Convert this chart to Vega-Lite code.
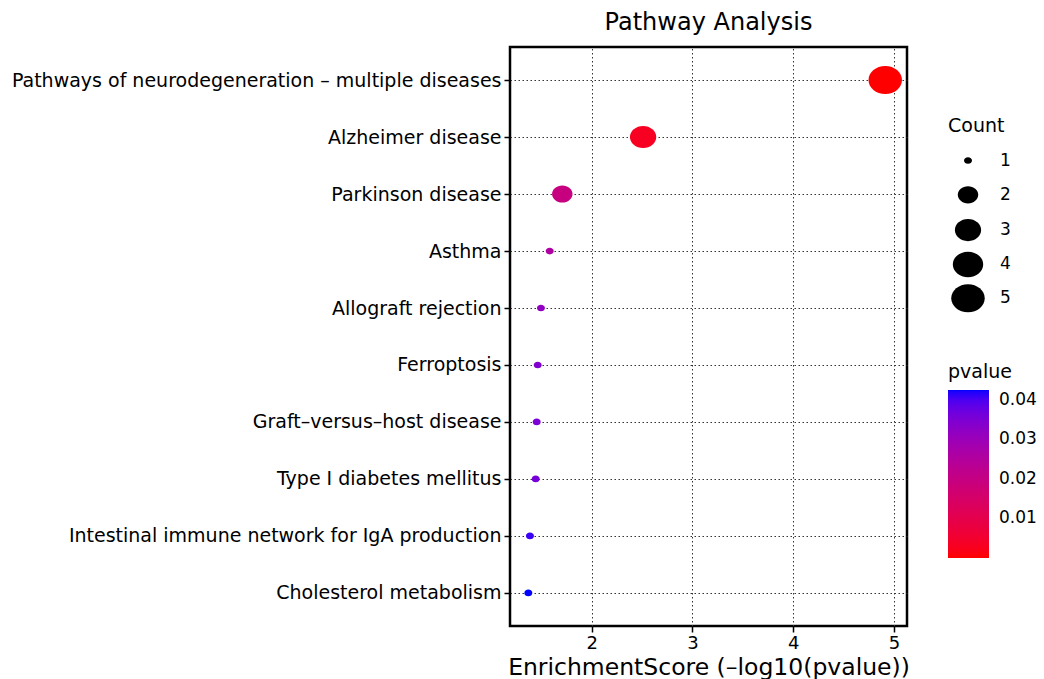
{
  "$schema": "https://vega.github.io/schema/vega-lite/v6.json",
  "width": 397,
  "height": 579,
  "autosize": {"type": "none"},
  "padding": {"left": 510, "top": 47, "right": 137, "bottom": 53},
  "background": "white",
  "title": {"text": "Pathway Analysis", "fontSize": 24, "font": "DejaVu Sans", "fontWeight": "normal", "color": "black", "anchor": "middle", "offset": 12},
  "config": {
    "view": {"stroke": "black", "strokeWidth": 2.5},
    "font": "DejaVu Sans",
    "axis": {
      "domain": false,
      "grid": true,
      "gridColor": "#333333",
      "gridDash": [1.5, 2.5],
      "gridWidth": 1,
      "tickColor": "black",
      "tickWidth": 1.5,
      "tickSize": 6,
      "labelColor": "black",
      "labelFont": "DejaVu Sans",
      "labelFontSize": 16,
      "titleFont": "DejaVu Sans",
      "titleFontWeight": "normal",
      "titleColor": "black"
    },
    "legend": {
      "titleFont": "DejaVu Sans",
      "titleFontWeight": "normal",
      "titleColor": "black",
      "titleFontSize": 19,
      "labelFont": "DejaVu Sans",
      "labelFontSize": 17,
      "labelColor": "black"
    }
  },
  "data": {
    "values": [
      {"pathway": "Pathways of neurodegeneration – multiple diseases", "enrichment": 4.914, "pvalue": 0.0000122, "count": 5},
      {"pathway": "Alzheimer disease", "enrichment": 2.511, "pvalue": 0.00308, "count": 3},
      {"pathway": "Parkinson disease", "enrichment": 1.709, "pvalue": 0.01954, "count": 2},
      {"pathway": "Asthma", "enrichment": 1.584, "pvalue": 0.02606, "count": 1},
      {"pathway": "Allograft rejection", "enrichment": 1.497, "pvalue": 0.03184, "count": 1},
      {"pathway": "Ferroptosis", "enrichment": 1.465, "pvalue": 0.03428, "count": 1},
      {"pathway": "Graft–versus–host disease", "enrichment": 1.455, "pvalue": 0.03508, "count": 1},
      {"pathway": "Type I diabetes mellitus", "enrichment": 1.445, "pvalue": 0.03589, "count": 1},
      {"pathway": "Intestinal immune network for IgA production", "enrichment": 1.388, "pvalue": 0.04093, "count": 1},
      {"pathway": "Cholesterol metabolism", "enrichment": 1.372, "pvalue": 0.04246, "count": 1}
    ]
  },
  "mark": {"type": "point", "filled": true, "opacity": 1, "strokeWidth": 0, "shape": "M-1,0A1,0.84,0,1,1,1,0A1,0.84,0,1,1,-1,0Z"},
  "encoding": {
    "y": {
      "field": "pathway",
      "type": "nominal",
      "sort": null,
      "scale": {"type": "point", "padding": 0.58},
      "axis": {"title": null, "labelPadding": 3, "labelFontSize": 19, "labelLimit": 0}
    },
    "x": {
      "field": "enrichment",
      "type": "quantitative",
      "scale": {"domain": [1.19, 5.13], "nice": false, "zero": false},
      "axis": {"values": [2, 3, 4, 5], "title": "EnrichmentScore (–log10(pvalue))", "titleFontSize": 23.5, "titlePadding": 3, "labelFontSize": 18, "labelPadding": 2}
    },
    "size": {
      "field": "count",
      "type": "quantitative",
      "scale": {"type": "sqrt", "domain": [1, 5], "range": [64, 1122], "zero": false},
      "legend": {
        "title": "Count",
        "orient": "none",
        "legendX": 438,
        "legendY": 70,
        "values": [1, 2, 3, 4, 5],
        "symbolType": "M-1,0A1,0.84,0,1,1,1,0A1,0.84,0,1,1,-1,0Z",
        "symbolFillColor": "black",
        "symbolStrokeWidth": 0,
        "symbolOffset": 3,
        "gridAlign": "all",
        "rowPadding": 0.3,
        "labelOffset": 15,
        "titlePadding": 16,
        "encode": {"symbols": {"update": {"fill": {"value": "black"}, "strokeWidth": {"value": 0}}}}
      }
    },
    "color": {
      "field": "pvalue",
      "type": "quantitative",
      "scale": {"range": ["#ff0000", "#0000ff"], "interpolate": "lab"},
      "legend": {
        "title": "pvalue",
        "orient": "none",
        "legendX": 438,
        "legendY": 316,
        "direction": "vertical",
        "gradientLength": 168,
        "gradientThickness": 41,
        "gradientStrokeWidth": 0,
        "values": [0.01, 0.02, 0.03, 0.04],
        "labelOffset": 10,
        "titlePadding": 8
      }
    }
  }
}
